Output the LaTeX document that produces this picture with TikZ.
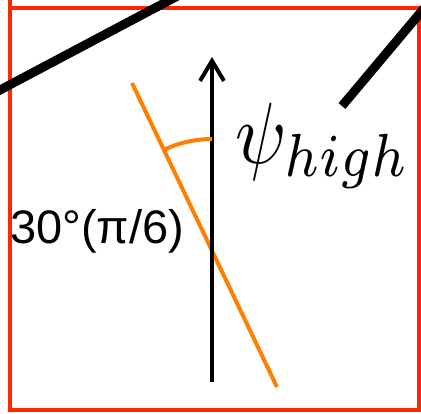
\documentclass[tikz,border=0pt]{standalone}
\usepackage{graphicx}
\usepackage{fontspec}
\setmainfont{Liberation Sans}
\usetikzlibrary{arrows.meta,calc}
\definecolor{boxred}{RGB}{255,38,0}
\definecolor{tiltorange}{RGB}{255,128,0}
\tikzset{
  frame/.style={draw=boxred,line width=4pt},
  thickbar/.style={draw=black,line width=9pt},
  axis/.style={draw=black,line width=4pt,-{Straight Barb[length=20pt,width=24pt,line width=4pt]}},
  tilt/.style={draw=tiltorange,line width=4pt},
}
\begin{document}
\begin{tikzpicture}[x=1pt,y=-1pt]
\useasboundingbox (0,0) rectangle (421,413);
\clip (0,0) rectangle (421,413);
% red frame
\draw[frame] (10,8) rectangle (419,410);
\draw[frame] (10,0) -- (10,8);
% black thick bars
\coordinate (b1a) at (-20,100.6);
\coordinate (b1b) at (190,-10.6);
\draw[thickbar] (b1a) -- (b1b);
\coordinate (b2a) at (342,106);
\coordinate (b2b) at (435,-4.7);
\draw[thickbar] (b2a) -- (b2b);
% orange tilted line
\coordinate (ot) at (132,83);
\coordinate (ob) at (277,387);
\draw[tilt] (ot) -- (ob);
% vertical arrow
\coordinate (as) at (212,382);
\coordinate (ae) at (212,57);
\draw[axis] (as) -- (ae);
% angle arc
\coordinate (arcs) at (212,139);
\draw[tilt] (arcs) arc[start angle=90,end angle=115.5,radius=112pt];
% labels
\node[anchor=base west,inner sep=0pt,font=\fontsize{47}{47}\selectfont] (ang) at (10,243) {30°(π/6)};
\node[anchor=base west,inner sep=0pt] (psi) at (235,163) {\scalebox{7.5}[8.7]{$\psi_{high}$}};
\end{tikzpicture}
\end{document}
